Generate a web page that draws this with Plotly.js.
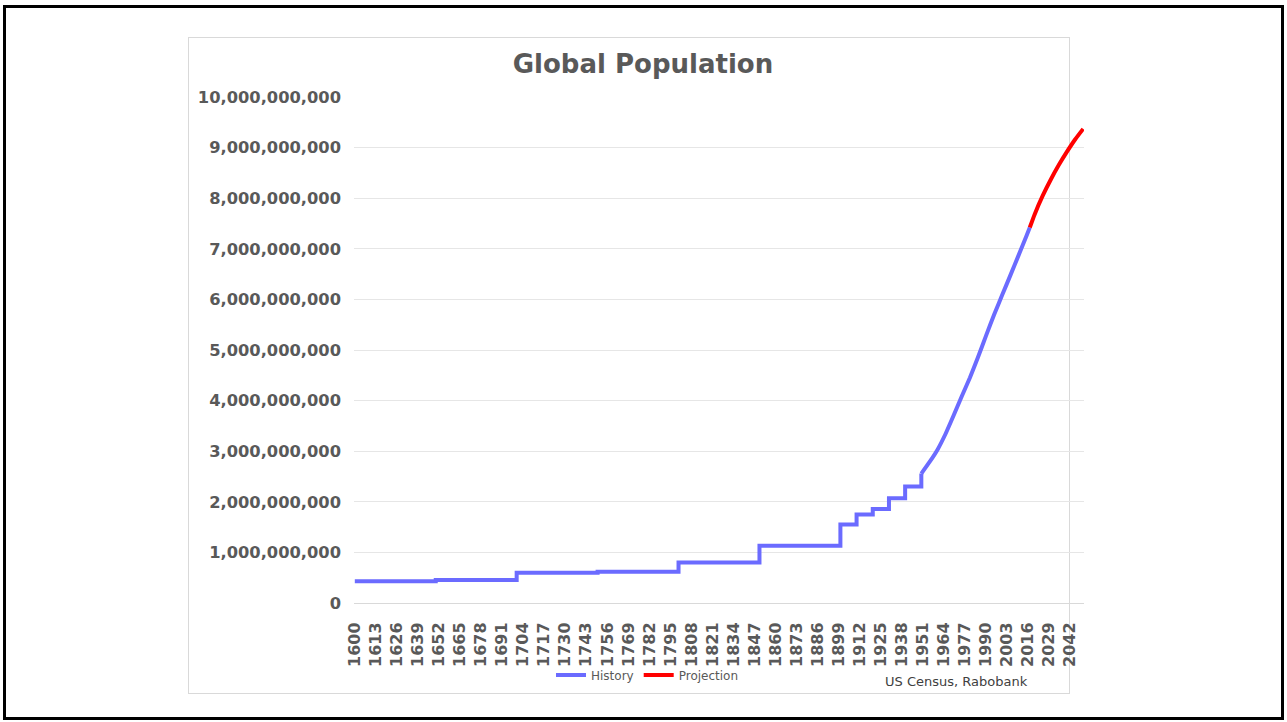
<!DOCTYPE html>
<html>
<head>
<meta charset="utf-8">
<script src="https://cdn.plot.ly/plotly-3.0.1.min.js"></script>
<style>
  html, body { margin: 0; padding: 0; background: #ffffff; }
  #frame { position: absolute; left: 3px; top: 5px; width: 1275px; height: 709px; border: 3px solid #000000; }
  #box { position: absolute; left: 188px; top: 37px; width: 880px; height: 655px; border: 1px solid #d9d9d9; }
  #chart { position: absolute; left: 0; top: 0; width: 1287px; height: 722px; }
</style>
</head>
<body>
<div id="frame"></div>
<div id="box"></div>
<div id="chart"></div>
<script>
// Benchmark estimates before 1950 (held constant until the next estimate)
const stepYears  = [1600, 1650, 1700, 1750, 1800, 1850, 1900, 1910, 1920, 1930, 1940, 1950];
const stepValues = [430e6, 455e6, 600e6, 620e6, 800e6, 1130e6, 1550e6, 1750e6, 1860e6, 2070e6, 2300e6, 2557e6];

// Annual-series history from 1950 onward
const histYears  = [1950, 1955, 1960, 1965, 1970, 1975, 1980, 1985, 1990, 1995, 2000, 2005, 2010, 2015, 2017];
const histValues = [2557e6, 2782e6, 3030e6, 3345e6, 3710e6, 4085e6, 4450e6, 4855e6, 5285e6, 5700e6, 6090e6, 6475e6, 6865e6, 7260e6, 7420e6];

// Projection
const projYears  = [2017, 2020, 2025, 2030, 2035, 2040, 2045, 2050];
const projValues = [7420e6, 7680e6, 8050e6, 8370e6, 8660e6, 8920e6, 9160e6, 9370e6];

// Category labels shown on the year axis (every 13th year)
const tickYears = [];
for (let y = 1600; y <= 2050; y += 13) tickYears.push(y);

const FONT = '"DejaVu Sans", Verdana, sans-serif';
const BLUE = '#6b6bff';
const RED = '#ff0000';

const traces = [
  {
    x: stepYears, y: stepValues, type: 'scatter', mode: 'lines', name: 'History',
    legendgroup: 'hist', line: { color: BLUE, width: 4, shape: 'hv' }, hoverinfo: 'skip'
  },
  {
    x: histYears, y: histValues, type: 'scatter', mode: 'lines', name: 'History',
    legendgroup: 'hist', showlegend: false, line: { color: BLUE, width: 4, shape: 'spline', smoothing: 0.4 }, hoverinfo: 'skip'
  },
  {
    x: projYears, y: projValues, type: 'scatter', mode: 'lines', name: 'Projection',
    line: { color: RED, width: 4, shape: 'spline', smoothing: 0.6 }, hoverinfo: 'skip'
  }
];

const layout = {
  width: 1287, height: 722,
  margin: { l: 354, r: 203, t: 97, b: 119 },
  paper_bgcolor: 'rgba(0,0,0,0)',
  plot_bgcolor: 'rgba(0,0,0,0)',
  font: { family: FONT, color: '#595959' },
  title: {
    text: 'Global Population',
    font: { family: FONT, size: 26, color: '#595959', weight: 'bold' },
    xref: 'container', yref: 'container', x: 0.4996, xanchor: 'center',
    y: 1 - 64 / 722, yanchor: 'middle'
  },
  xaxis: {
    type: 'linear', range: [1599.5, 2050.5], fixedrange: true,
    tickmode: 'array', tickvals: tickYears, ticktext: tickYears.map(String),
    tickangle: -90, ticks: '', ticklabelstandoff: 12,
    tickfont: { family: FONT, size: 16, color: '#595959', weight: 'bold' },
    showgrid: false, zeroline: false,
    showline: true, linecolor: '#d9d9d9', linewidth: 1
  },
  yaxis: {
    range: [0, 10e9], fixedrange: true, dtick: 1e9, tickformat: ',d',
    ticks: '', ticklabelstandoff: 12,
    tickfont: { family: FONT, size: 16.3, color: '#595959', weight: 'bold' },
    showgrid: true, gridcolor: '#e6e6e6', gridwidth: 1,
    zeroline: true, zerolinecolor: '#d9d9d9', zerolinewidth: 1, showline: false
  },
  showlegend: true,
  legend: {
    orientation: 'h', xref: 'container', yref: 'container',
    x: 551 / 1287, xanchor: 'left', y: 1 - 675 / 722, yanchor: 'middle',
    font: { family: FONT, size: 12, color: '#595959' },
    itemwidth: 30, bgcolor: 'rgba(0,0,0,0)', tracegroupgap: 0
  },
  annotations: [{
    text: 'US Census, Rabobank', showarrow: false,
    xref: 'paper', yref: 'paper',
    x: (883 - 354) / 730, xanchor: 'left',
    y: -(681 - 603) / 506, yanchor: 'middle',
    font: { family: FONT, size: 13, color: '#404040' }
  }]
};

Plotly.newPlot('chart', traces, layout, { displayModeBar: false, staticPlot: true });
</script>
</body>
</html>
